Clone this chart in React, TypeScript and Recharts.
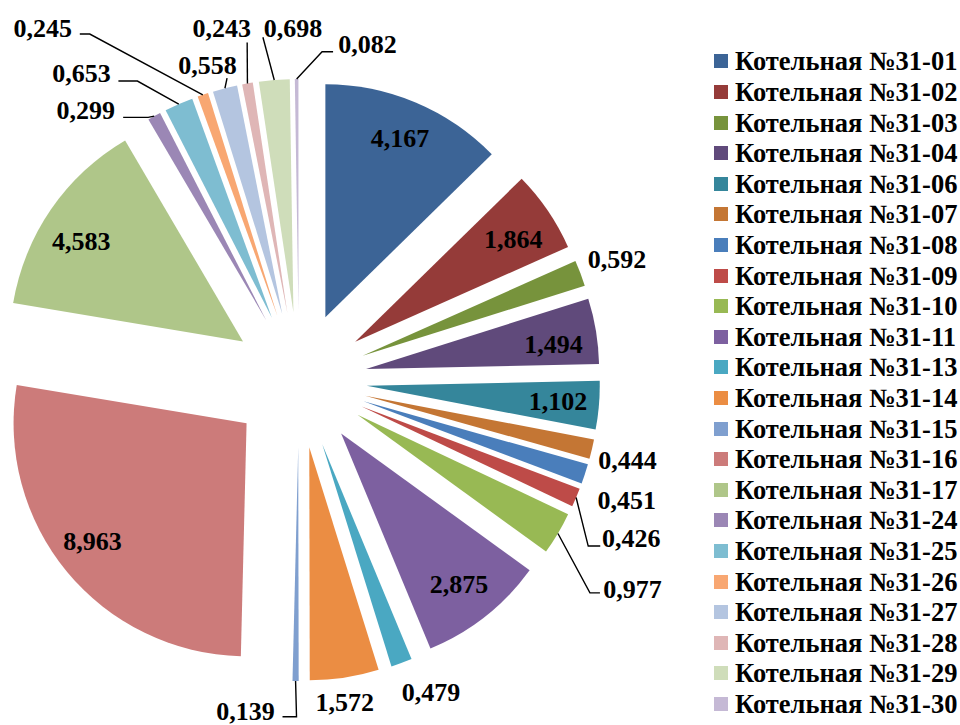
import React from 'react';
import { PieChart, Pie, Cell, Legend } from 'recharts';

// Boiler houses and their values
const names = [
  'Котельная №31-01', 'Котельная №31-02', 'Котельная №31-03', 'Котельная №31-04',
  'Котельная №31-06', 'Котельная №31-07', 'Котельная №31-08', 'Котельная №31-09',
  'Котельная №31-10', 'Котельная №31-11', 'Котельная №31-13', 'Котельная №31-14',
  'Котельная №31-15', 'Котельная №31-16', 'Котельная №31-17', 'Котельная №31-24',
  'Котельная №31-25', 'Котельная №31-26', 'Котельная №31-27', 'Котельная №31-28',
  'Котельная №31-29', 'Котельная №31-30',
];
const values = [
  4.167, 1.864, 0.592, 1.494, 1.102, 0.444, 0.451, 0.426, 0.977, 2.875, 0.479,
  1.572, 0.139, 8.963, 4.583, 0.299, 0.653, 0.245, 0.558, 0.243, 0.698, 0.082,
];
const colors = [
  '#3C6496', '#953B39', '#77933C', '#604A7B', '#35869B', '#C47634', '#4A7EBB',
  '#BE4B48', '#98B954', '#7D60A0', '#4AA8C2', '#EB8D43', '#7F9FCF', '#CC7B7A',
  '#AFC689', '#9B87B5', '#7EBDD1', '#F8A772', '#B4C5E0', '#DFB6B6', '#CFDDBA',
  '#C5B9D5',
];

// Label placement: distance and clockwise angle (from 12 o'clock) about each slice's own centre
const labelRadius = [
  194, 188, 272, 189, 192, 270, 281, 300, 326, 192, 271,
  258, 269, 194, 190, 277, 310, 371, 260, 292, 284, 276,
];
const labelAngle = [
  22.6, 57.2, 69.3, 82.7, 94.8, 103.8, 110.6, 116.0, 122.5, 142.1, 156.3,
  172.1, 191.3, 232.6, 301.7, 319.3, 322.1, 320.8, 343.3, 347.0, 359.9, 14.5,
];
// Leader lines: optional knee and end point, relative to the label centre
type Leader = { knee?: [number, number]; end: [number, number] } | null;
const leaders: Leader[] = [
  null, null, null, null, null, null, null,
  { knee: [-43, 8], end: [-31, 8] },
  { knee: [-42.5, 3], end: [-32.5, 3] },
  null, null, null,
  { knee: [51, 5], end: [37, 5] },
  null, null,
  { knee: [62.5, 7], end: [37.5, 7] },
  { knee: [56, 8], end: [37, 8] },
  { knee: [47, 6], end: [37, 6] },
  { end: [19.5, 13] },
  { end: [25.5, 14] },
  { end: [-30, 9] },
  { knee: [-45.5, 7], end: [-34.5, 7] },
];

const W = 960;
const H = 725;
const CX = 299;
const CY = 380;
const RADIUS = 233;
const EXPLODE = 68;
const FONT = '"Liberation Serif", "Times New Roman", serif';
const RAD = Math.PI / 180;

const rows = names.map((name, i) => ({ name, value: values[i] }));
const total = values.reduce((a, b) => a + b, 0);

// clockwise mid angle of each slice, measured from 12 o'clock
const midAngles: number[] = [];
values.reduce((acc, v) => {
  midAngles.push(((acc + v / 2) / total) * 360);
  return acc + v;
}, 0);

const fmt = (v: number) => v.toFixed(3).replace('.', ',');

const makeLabel = (k: number) => (p: any) => {
  const idx = typeof p.index === 'number' ? p.index : names.indexOf(p.name);
  if (idx !== k) return null;
  const { cx, cy, midAngle, outerRadius } = p;
  const a = labelAngle[k] * RAD;
  const lx = cx + labelRadius[k] * Math.sin(a);
  const ly = cy - labelRadius[k] * Math.cos(a);
  const ld = leaders[k];
  let line = null;
  if (ld) {
    const sx = cx + outerRadius * Math.cos(-midAngle * RAD);
    const sy = cy + outerRadius * Math.sin(-midAngle * RAD);
    const pts: number[][] = [[sx, sy]];
    if (ld.knee) pts.push([lx + ld.knee[0], ly + ld.knee[1]]);
    pts.push([lx + ld.end[0], ly + ld.end[1]]);
    line = (
      <polyline
        points={pts.map((q) => q.join(',')).join(' ')}
        fill="none"
        stroke="#000"
        strokeWidth={1.4}
      />
    );
  }
  return (
    <g key={`lbl-${k}`}>
      {line}
      <text
        x={lx}
        y={ly}
        textAnchor="middle"
        dominantBaseline="central"
        fontFamily={FONT}
        fontWeight="bold"
        fontSize={26}
        fill="#000"
      >
        {fmt(values[k])}
      </text>
    </g>
  );
};

const renderLegend = () => (
  <ul style={{ listStyle: 'none', margin: 0, padding: 0 }}>
    {names.map((n, i) => (
      <li
        key={n}
        style={{ display: 'flex', alignItems: 'center', height: 30.62, whiteSpace: 'nowrap' }}
      >
        <span
          style={{
            display: 'inline-block',
            width: 14,
            height: 14,
            background: colors[i],
            marginRight: 7,
            flex: 'none',
          }}
        />
        <span
          style={{
            fontFamily: FONT,
            fontWeight: 'bold',
            fontSize: 26.5,
            color: '#000',
            lineHeight: '30px',
          }}
        >
          {n}
        </span>
      </li>
    ))}
  </ul>
);

export default function App() {
  return (
    <div style={{ position: 'absolute', left: 0, top: 0, width: W, height: H, background: '#fff' }}>
      <PieChart width={W} height={H} margin={{ top: 0, right: 0, bottom: 0, left: 0 }}>
        {names.map((n, k) => (
          <Pie
            key={n}
            data={rows}
            dataKey="value"
            nameKey="name"
            cx={CX + EXPLODE * Math.sin(midAngles[k] * RAD)}
            cy={CY - EXPLODE * Math.cos(midAngles[k] * RAD)}
            outerRadius={RADIUS}
            startAngle={90}
            endAngle={-270}
            stroke="none"
            isAnimationActive={false}
            label={makeLabel(k)}
            labelLine={false}
            legendType="none"
          >
            {rows.map((r, j) => (
              <Cell key={r.name} fill={j === k ? colors[j] : 'none'} />
            ))}
          </Pie>
        ))}
        <Legend
          layout="vertical"
          align="right"
          verticalAlign="top"
          content={renderLegend}
          wrapperStyle={{ position: 'absolute', top: 46, left: 714, right: 'auto', width: 246, margin: 0 }}
        />
      </PieChart>
    </div>
  );
}
